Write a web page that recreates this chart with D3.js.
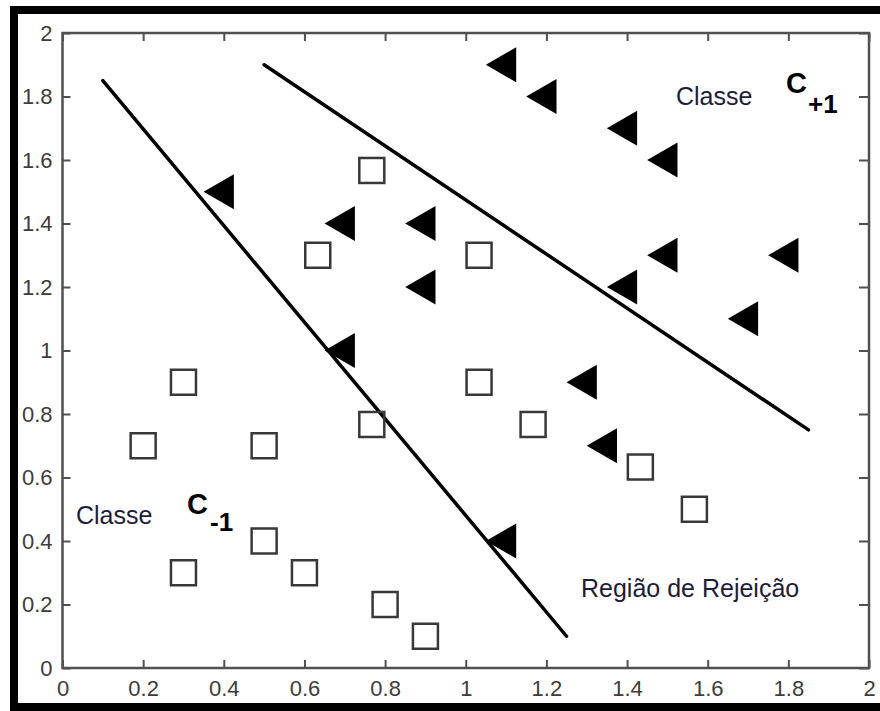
<!DOCTYPE html>
<html>
<head>
<meta charset="utf-8">
<script src="https://cdn.jsdelivr.net/npm/d3@7"></script>
<style>
  body { margin: 0; background: #fff; }
  svg { display: block; }
</style>
</head>
<body>
<div id="chart"></div>
<script>
// Classe C+1 (triangles), Classe C-1 (squares), two separating lines
const triX = [1.1, 1.2, 1.4, 1.5, 0.4, 0.7, 0.9, 1.5, 1.8, 0.9, 1.4, 1.7, 0.7, 1.3, 1.35, 1.1];
const triY = [1.9, 1.8, 1.7, 1.6, 1.5, 1.4, 1.4, 1.3, 1.3, 1.2, 1.2, 1.1, 1.0, 0.9, 0.7, 0.4];

const sqX = [0.767, 0.633, 1.033, 0.3, 0.2, 0.5, 0.767, 1.033, 1.167, 1.433, 1.567, 0.3, 0.5, 0.6, 0.8, 0.9];
const sqY = [1.567, 1.3, 1.3, 0.9, 0.7, 0.7, 0.767, 0.9, 0.767, 0.633, 0.5, 0.3, 0.4, 0.3, 0.2, 0.1];

const line1 = [[0.1, 1.85], [1.25, 0.1]];
const line2 = [[0.5, 1.9], [1.85, 0.75]];

const ticks = [0, 0.2, 0.4, 0.6, 0.8, 1, 1.2, 1.4, 1.6, 1.8, 2];

const width = 880, height = 711;
const margin = { top: 33, right: 11, bottom: 43, left: 62.5 };

const svg = d3.select('#chart').append('svg')
    .attr('width', width)
    .attr('height', height);

// outer black frame (open on the right, like the cropped picture)
svg.append('path')
    .attr('d', `M${width + 10},10 H14 V707 H${width + 10}`)
    .attr('fill', 'none')
    .attr('stroke', '#000')
    .attr('stroke-width', 8);

const x = d3.scaleLinear().domain([0, 2]).range([margin.left, width - margin.right]);
const y = d3.scaleLinear().domain([0, 2]).range([height - margin.bottom, margin.top]);

const axisColor = '#505050';
const tickFont = '22px "Liberation Sans", Arial, sans-serif';

function styleAxis(g, showLabels) {
    g.select('.domain').remove();
    g.selectAll('.tick line').attr('stroke', axisColor).attr('stroke-width', 2);
    g.selectAll('.tick text')
        .style('font', tickFont)
        .attr('fill', '#3c3c3c')
        .attr('opacity', showLabels ? 1 : 0);
}

const fmt = d => d === 0 || d === 1 || d === 2 ? String(d) : d.toFixed(1);

svg.append('g')
    .attr('transform', `translate(0,${y(0)})`)
    .call(d3.axisBottom(x).tickValues(ticks).tickFormat(fmt).tickSizeInner(-8).tickPadding(12))
    .call(g => styleAxis(g, true));

svg.append('g')
    .attr('transform', `translate(0,${y(2)})`)
    .call(d3.axisTop(x).tickValues(ticks).tickSizeInner(-8))
    .call(g => styleAxis(g, false));

svg.append('g')
    .attr('transform', `translate(${x(0)},0)`)
    .call(d3.axisLeft(y).tickValues(ticks).tickFormat(fmt).tickSizeInner(-8).tickPadding(10))
    .call(g => styleAxis(g, true));

svg.append('g')
    .attr('transform', `translate(${x(2)},0)`)
    .call(d3.axisRight(y).tickValues(ticks).tickSizeInner(-10))
    .call(g => styleAxis(g, false));

// box
svg.append('rect')
    .attr('x', x(0))
    .attr('y', y(2))
    .attr('width', x(2) - x(0))
    .attr('height', y(0) - y(2))
    .attr('fill', 'none')
    .attr('stroke', axisColor)
    .attr('stroke-width', 2.5);

// decision lines
const lineGen = d3.line().x(d => x(d[0])).y(d => y(d[1]));
[line1, line2].forEach(l => {
    svg.append('path')
        .attr('d', lineGen(l))
        .attr('fill', 'none')
        .attr('stroke', '#000')
        .attr('stroke-width', 3.5)
        .attr('stroke-linecap', 'round');
});

// squares
const sqSize = 25;
svg.selectAll('.sq')
    .data(d3.range(sqX.length))
    .join('rect')
    .attr('class', 'sq')
    .attr('x', i => x(sqX[i]) - sqSize / 2)
    .attr('y', i => y(sqY[i]) - sqSize / 2)
    .attr('width', sqSize)
    .attr('height', sqSize)
    .attr('fill', 'none')
    .attr('stroke', '#383838')
    .attr('stroke-width', 2.5);

// left-pointing filled triangles
const tri = d3.symbol().type(d3.symbolTriangle).size(530);
svg.selectAll('.tri')
    .data(d3.range(triX.length))
    .join('path')
    .attr('class', 'tri')
    .attr('d', tri)
    .attr('transform', i => `translate(${x(triX[i])},${y(triY[i])}) rotate(-90)`)
    .attr('fill', '#000');

// annotations
const labelColor = '#1c1c3c';
const txtFont = '25px "Liberation Sans", Arial, sans-serif';
const boldFont = 'bold 29px "Liberation Sans", Arial, sans-serif';
const subFont = 'bold 26px "Liberation Sans", Arial, sans-serif';

svg.append('text').attr('x', 676).attr('y', 105)
    .style('font', txtFont).attr('fill', labelColor).text('Classe');
svg.append('text').attr('x', 786).attr('y', 93)
    .style('font', boldFont).attr('fill', '#000').text('C');
svg.append('text').attr('x', 808).attr('y', 113)
    .style('font', subFont).attr('fill', '#000').text('+1');

svg.append('text').attr('x', 76).attr('y', 524)
    .style('font', txtFont).attr('fill', labelColor).text('Classe');
svg.append('text').attr('x', 187).attr('y', 514)
    .style('font', boldFont).attr('fill', '#000').text('C');
svg.append('text').attr('x', 210).attr('y', 531)
    .style('font', subFont).attr('fill', '#000').text('-1');

svg.append('text').attr('x', 581).attr('y', 597)
    .style('font', txtFont).attr('fill', labelColor).text('Região de Rejeição');
</script>
</body>
</html>
